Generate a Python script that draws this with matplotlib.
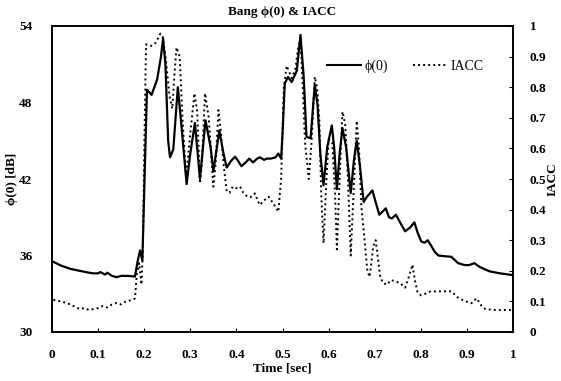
import numpy as np
import matplotlib
matplotlib.use('Agg')
import matplotlib.pyplot as plt
from matplotlib.lines import Line2D

plt.rcParams['font.family'] = ['Liberation Serif', 'DejaVu Serif']

# phi(0) [dB], solid line (left axis)
t_phi = [0.003, 0.02, 0.04, 0.06, 0.08, 0.09, 0.10, 0.105, 0.115, 0.12, 0.13, 0.14,
         0.15, 0.165, 0.18, 0.186, 0.191, 0.196, 0.200, 0.206, 0.216, 0.228, 0.236,
         0.241, 0.246, 0.252, 0.256, 0.263, 0.273, 0.280, 0.292, 0.300, 0.310, 0.321,
         0.333, 0.344, 0.350, 0.363, 0.372, 0.379, 0.388, 0.397, 0.404, 0.411, 0.420,
         0.428, 0.436, 0.445, 0.451, 0.460, 0.466, 0.475, 0.485, 0.491, 0.497, 0.500,
         0.505, 0.512, 0.520, 0.531, 0.539, 0.546, 0.552, 0.561, 0.570, 0.576, 0.582,
         0.589, 0.597, 0.607, 0.612, 0.618, 0.624, 0.630, 0.638, 0.648, 0.655, 0.661,
         0.668, 0.676, 0.683, 0.695, 0.702, 0.710, 0.716, 0.724, 0.731, 0.737, 0.746,
         0.755, 0.766, 0.777, 0.786, 0.793, 0.801, 0.808, 0.815, 0.822, 0.830, 0.838,
         0.850, 0.866, 0.881, 0.895, 0.905, 0.916, 0.928, 0.940, 0.950, 0.972, 0.998]
phi = [35.5, 35.2, 34.95, 34.8, 34.65, 34.6, 34.6, 34.7, 34.5, 34.65, 34.4, 34.3,
       34.4, 34.4, 34.35, 35.6, 36.4, 35.6, 41.0, 49.0, 48.6, 49.8, 51.5,
       53.0, 51.0, 45.0, 43.7, 44.3, 49.2, 46.5, 41.6, 44.0, 46.4, 42.0,
       46.6, 44.5, 42.6, 45.8, 44.0, 42.9, 43.4, 43.75, 43.4, 43.0, 43.3,
       43.6, 43.3, 43.6, 43.7, 43.5, 43.6, 43.6, 43.7, 44.0, 43.6, 45.5,
       49.5, 50.0, 49.6, 50.5, 53.3, 50.0, 45.3, 45.2, 49.4, 47.8, 44.0,
       41.5, 44.5, 46.2, 44.5, 41.2, 44.0, 46.0, 44.5, 40.9, 43.5, 45.0,
       43.0, 40.2, 40.6, 41.1, 40.2, 39.2, 39.4, 39.7, 39.0, 38.9, 39.2,
       38.6, 37.9, 38.2, 38.6, 37.8, 37.1, 37.0, 37.2, 36.8, 36.3, 36.0,
       35.95, 35.9, 35.4, 35.25, 35.25, 35.4, 35.1, 34.9, 34.75, 34.6, 34.47]

# IACC, dotted line (right axis)
t_iacc = [0.003, 0.02, 0.04, 0.06, 0.07, 0.08, 0.09, 0.10, 0.11, 0.12, 0.13, 0.14,
          0.15, 0.16, 0.175, 0.180, 0.184, 0.189, 0.194, 0.197, 0.200, 0.204, 0.215,
          0.225, 0.235, 0.240, 0.247, 0.255, 0.261, 0.266, 0.270, 0.277, 0.283, 0.291,
          0.298, 0.309, 0.315, 0.321, 0.325, 0.332, 0.340, 0.350, 0.355, 0.361, 0.366,
          0.372, 0.379, 0.385, 0.392, 0.400, 0.408, 0.415, 0.422, 0.430, 0.440, 0.446,
          0.451, 0.460, 0.470, 0.480, 0.491, 0.497, 0.503, 0.509, 0.520, 0.528, 0.534,
          0.539, 0.544, 0.549, 0.557, 0.563, 0.570, 0.575, 0.580, 0.584, 0.589, 0.595,
          0.600, 0.608, 0.614, 0.618, 0.624, 0.630, 0.636, 0.642, 0.648, 0.654, 0.661,
          0.666, 0.671, 0.678, 0.684, 0.689, 0.697, 0.702, 0.707, 0.712, 0.718, 0.727,
          0.735, 0.745, 0.755, 0.766, 0.772, 0.782, 0.787, 0.793, 0.800, 0.810, 0.820,
          0.840, 0.866, 0.881, 0.890, 0.900, 0.910, 0.921, 0.932, 0.940, 0.960, 0.998]
iacc = [0.105, 0.10, 0.09, 0.075, 0.078, 0.072, 0.075, 0.078, 0.085, 0.08, 0.09, 0.095,
        0.09, 0.10, 0.105, 0.11, 0.19, 0.225, 0.155, 0.26, 0.58, 0.94, 0.935,
        0.945, 0.975, 0.965, 0.89, 0.77, 0.73, 0.85, 0.93, 0.90, 0.70, 0.50,
        0.62, 0.78, 0.72, 0.485, 0.55, 0.78, 0.70, 0.475, 0.55, 0.725, 0.66,
        0.55, 0.46, 0.455, 0.475, 0.47, 0.475, 0.455, 0.445, 0.44, 0.453, 0.43,
        0.415, 0.43, 0.442, 0.42, 0.393, 0.50, 0.80, 0.87, 0.83, 0.86, 0.93,
        0.96, 0.80, 0.617, 0.50, 0.62, 0.834, 0.80, 0.69, 0.45, 0.29, 0.49,
        0.63, 0.62, 0.45, 0.27, 0.50, 0.72, 0.68, 0.50, 0.25, 0.45, 0.69,
        0.60, 0.41, 0.30, 0.20, 0.18, 0.28, 0.30, 0.24, 0.18, 0.16, 0.155,
        0.17, 0.165, 0.16, 0.145, 0.17, 0.22, 0.17, 0.13, 0.12, 0.125, 0.132,
        0.133, 0.133, 0.112, 0.105, 0.099, 0.094, 0.11, 0.085, 0.075, 0.072, 0.072]

x_ticks = [0, 0.1, 0.2, 0.3, 0.4, 0.5, 0.6, 0.7, 0.8, 0.9, 1]
x_labels = ['0', '0.1', '0.2', '0.3', '0.4', '0.5', '0.6', '0.7', '0.8', '0.9', '1']
phi_ticks = [30, 36, 42, 48, 54]
iacc_ticks = [0, 0.1, 0.2, 0.3, 0.4, 0.5, 0.6, 0.7, 0.8, 0.9, 1]
iacc_labels = ['0', '0.1', '0.2', '0.3', '0.4', '0.5', '0.6', '0.7', '0.8', '0.9', '1']

fig = plt.figure(figsize=(5.61, 3.81), dpi=100)
ax = fig.add_axes([52 / 561, 1 - 332 / 381, 461 / 561, 306 / 381])
ax2 = ax.twinx()

ax.plot(t_phi, phi, color='black', lw=1.6, solid_joinstyle='round')
ax2.plot(t_iacc, iacc, color='black', lw=1.4, linestyle=(0, (1, 1.6)))

ax.set_xlim(0, 1)
ax.set_ylim(30, 54)
ax2.set_ylim(0, 1)

ax.set_xticks(x_ticks)
ax.set_xticklabels(x_labels, fontsize=9.5, fontweight='bold')
ax.set_yticks(phi_ticks)
ax.set_yticklabels([str(v) for v in phi_ticks], fontsize=9.5, fontweight='bold')
ax2.set_yticks(iacc_ticks)
ax2.set_yticklabels(iacc_labels, fontsize=9.5, fontweight='bold')

ax.tick_params(axis='x', direction='in', length=3, width=0.8, pad=12)
ax.tick_params(axis='y', direction='in', length=0, pad=14)
ax2.tick_params(axis='y', direction='in', length=3, width=0.8, pad=12)

for a in (ax, ax2):
    for s in a.spines.values():
        s.set_linewidth(1.2)

ax.set_xlabel('Time [sec]', fontsize=9.5, fontweight='bold', labelpad=1)
ax.set_ylabel('ϕ(0) [dB]', fontsize=9.5, fontweight='bold', labelpad=1)
ax2.set_ylabel('IACC', fontsize=9.5, fontweight='bold', labelpad=0)
ax.set_title('Bang ϕ(0) & IACC', fontsize=9.5, fontweight='bold', pad=8)

handles = [Line2D([], [], color='black', lw=1.5),
           Line2D([], [], color='black', lw=1.4, linestyle=(0, (1, 1.6)))]
ax.legend(handles, ['ϕ(0)', 'IACC'], loc='upper left', bbox_to_anchor=(0.57, 0.93),
          ncol=2, frameon=False, fontsize=10, handlelength=2.4, handletextpad=0.3,
          columnspacing=1.8)

fig.savefig('out.png', dpi=100)
